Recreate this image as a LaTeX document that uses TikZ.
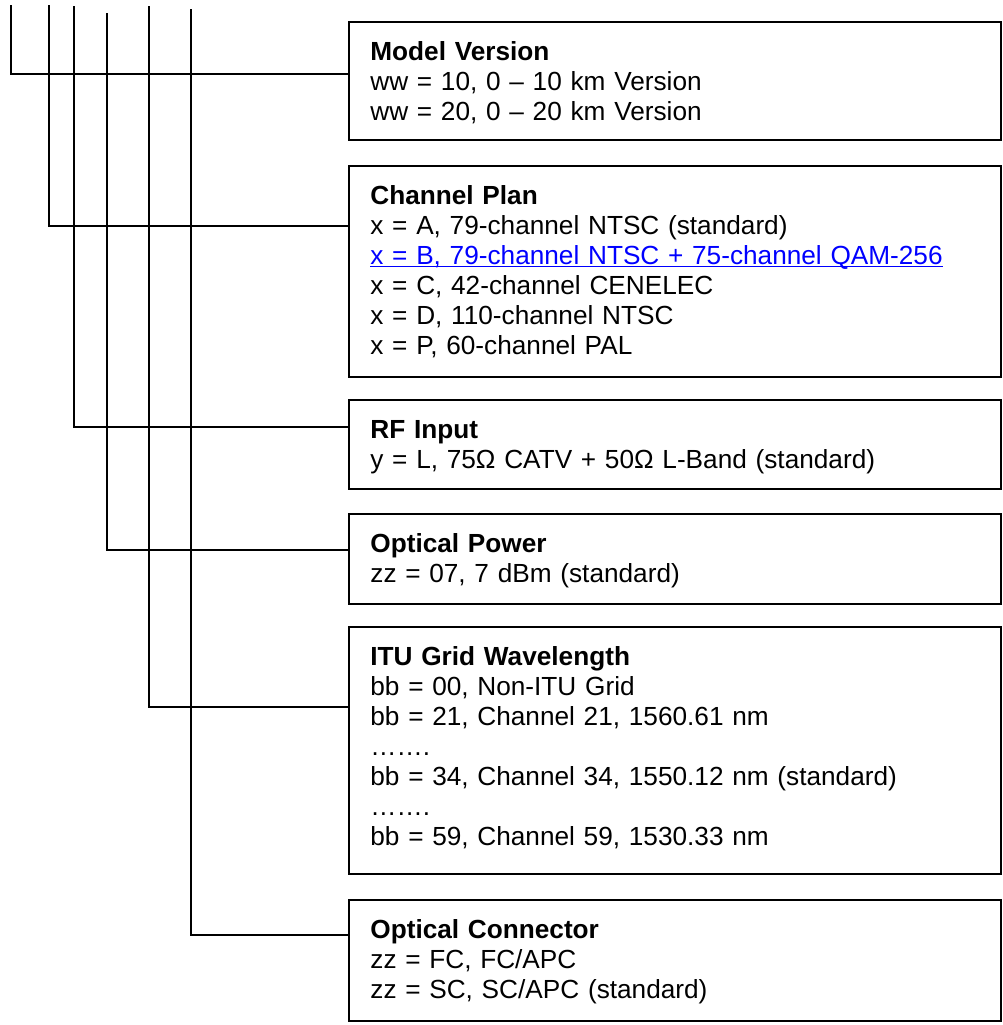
\documentclass[tikz,border=0pt]{standalone}
\usepackage{fontspec}
\setmainfont{Liberation Sans}
\usetikzlibrary{positioning}
\newcommand{\bluelink}[1]{\leavevmode{\color{blue}\setbox0\hbox{#1}\rlap{\rule[-1.6pt]{\wd0}{0.65pt}}\box0}}
\tikzstyle{optbox} = [draw, line width=1pt, rectangle, anchor=north west, outer sep=0pt, minimum width=326pt]
\tikzstyle{optlist} = [anchor=base west, inner sep=0pt, text width=300pt, align=left, font=\fontsize{13.1}{15}\selectfont]
\tikzstyle{wire} = [draw, line width=1pt]

\begin{document}
\begin{tikzpicture}[x=0.5pt, y=-0.5pt]
    % pixel grid, y grows downwards
    \useasboundingbox (0,0) rectangle (1003,1025);

    % Option boxes
    \node [optbox, minimum height=59pt] (model) at (349,22) {};
    \node [optbox, minimum height=105.5pt] (chan) at (349,166) {};
    \node [optbox, minimum height=44.5pt] (rfin) at (349,400) {};
    \node [optbox, minimum height=45pt] (optpow) at (349,514) {};
    \node [optbox, minimum height=123.5pt] (itu) at (349,627) {};
    \node [optbox, minimum height=60.5pt] (optcon) at (349,900) {};

    % Option texts
    \node [optlist] (modeltxt) at ([shift={(21,38)}]model.north west)
        {\textbf{Model Version}\\ ww = 10, 0 – 10 km Version\\ ww = 20, 0 – 20 km Version};
    \node [optlist] (chantxt) at ([shift={(21,38)}]chan.north west)
        {\textbf{Channel Plan}\\ x = A, 79-channel NTSC (standard)\\
         \bluelink{x = B, 79-channel NTSC + 75-channel QAM-256}\\
         x = C, 42-channel CENELEC\\ x = D, 110-channel NTSC\\ x = P, 60-channel PAL};
    \node [optlist] (rfintxt) at ([shift={(21,38)}]rfin.north west)
        {\textbf{RF Input}\\ y = L, 75Ω CATV + 50Ω L-Band (standard)};
    \node [optlist] (optpowtxt) at ([shift={(21,38)}]optpow.north west)
        {\textbf{Optical Power}\\ zz = 07, 7 dBm (standard)};
    \node [optlist] (itutxt) at ([shift={(21,38)}]itu.north west)
        {\textbf{ITU Grid Wavelength}\\ bb = 00, Non-ITU Grid\\ bb = 21, Channel 21, 1560.61 nm\\
         …….\\ bb = 34, Channel 34, 1550.12 nm (standard)\\ …….\\ bb = 59, Channel 59, 1530.33 nm};
    \node [optlist] (optcontxt) at ([shift={(21,38)}]optcon.north west)
        {\textbf{Optical Connector}\\ zz = FC, FC/APC\\ zz = SC, SC/APC (standard)};

    % Tree lines
    \coordinate (wwtop) at (11,5);
    \coordinate (xtop) at (49,5);
    \coordinate (ytop) at (74,6);
    \coordinate (zztop) at (107,13);
    \coordinate (bbtop) at (149,6);
    \coordinate (cntop) at (191,9);

    \draw [wire] (wwtop) |- (model.west |- 0,74);
    \draw [wire] (xtop) |- (chan.west |- 0,226);
    \draw [wire] (ytop) |- (rfin.west |- 0,427);
    \draw [wire] (zztop) |- (optpow.west |- 0,550);
    \draw [wire] (bbtop) |- (itu.west |- 0,707);
    \draw [wire] (cntop) |- (optcon.west |- 0,935);
\end{tikzpicture}
\end{document}
